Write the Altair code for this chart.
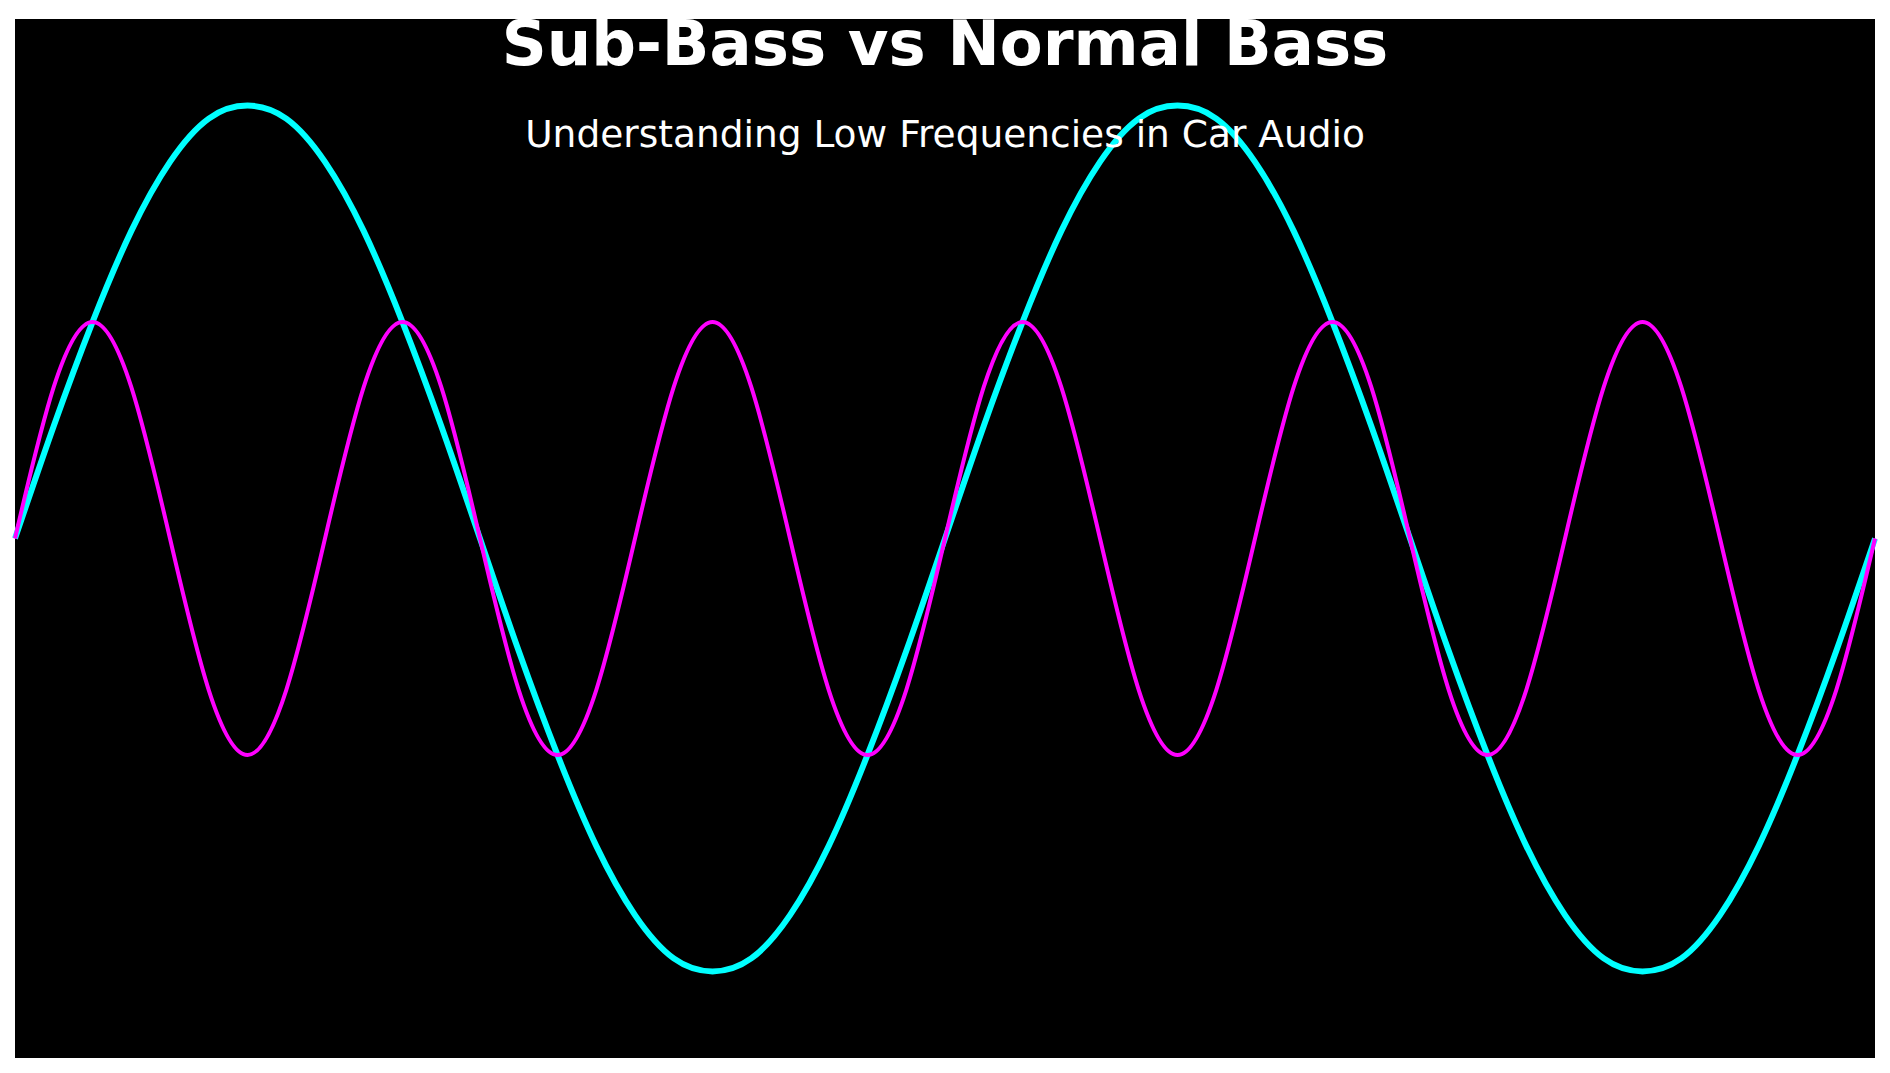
import altair as alt
import pandas as pd

TITLE = "Sub-Bass vs Normal Bass"
SUBTITLE = "Understanding Low Frequencies in Car Audio"

SERIES = ["Sub-Bass", "Normal Bass"]
COLORS = ["#00FFFF", "#FF00FF"]

# sample index along the horizontal axis
SAMPLE = list(range(49))

# sub-bass wave (two cycles across the view)
SUB_BASS = [
    0.0, 0.26, 0.5, 0.71, 0.87, 0.97, 1.0, 0.97, 0.87, 0.71, 0.5, 0.26,
    0.0, -0.26, -0.5, -0.71, -0.87, -0.97, -1.0, -0.97, -0.87, -0.71, -0.5, -0.26,
    0.0, 0.26, 0.5, 0.71, 0.87, 0.97, 1.0, 0.97, 0.87, 0.71, 0.5, 0.26,
    0.0, -0.26, -0.5, -0.71, -0.87, -0.97, -1.0, -0.97, -0.87, -0.71, -0.5, -0.26,
    0.0,
]

# normal bass wave (six cycles, half amplitude)
NORMAL_BASS = [
    0.0, 0.35, 0.5, 0.35, 0.0, -0.35, -0.5, -0.35,
    0.0, 0.35, 0.5, 0.35, 0.0, -0.35, -0.5, -0.35,
    0.0, 0.35, 0.5, 0.35, 0.0, -0.35, -0.5, -0.35,
    0.0, 0.35, 0.5, 0.35, 0.0, -0.35, -0.5, -0.35,
    0.0, 0.35, 0.5, 0.35, 0.0, -0.35, -0.5, -0.35,
    0.0, 0.35, 0.5, 0.35, 0.0, -0.35, -0.5, -0.35,
    0.0,
]

Y_DOMAIN = [-1.2, 1.2]

W, H = 1860, 1039

sub_df = pd.DataFrame({"sample": SAMPLE, "amp": SUB_BASS, "series": SERIES[0]})
norm_df = pd.DataFrame({"sample": SAMPLE, "amp": NORMAL_BASS, "series": SERIES[1]})

x_enc = alt.X("sample:Q", scale=alt.Scale(domain=[SAMPLE[0], SAMPLE[-1]], nice=False, zero=False), axis=None)
y_enc = alt.Y("amp:Q", scale=alt.Scale(domain=Y_DOMAIN, nice=False, zero=False), axis=None)
color_enc = alt.Color("series:N", scale=alt.Scale(domain=SERIES, range=COLORS), legend=None)

sub_line = alt.Chart(sub_df).mark_line(strokeWidth=6, interpolate="natural").encode(
    x=x_enc, y=y_enc, color=color_enc, order="sample:Q"
)
norm_line = alt.Chart(norm_df).mark_line(strokeWidth=4, interpolate="natural").encode(
    x=x_enc, y=y_enc, color=color_enc, order="sample:Q"
)

title_txt = alt.Chart(pd.DataFrame({"t": [TITLE]})).mark_text(
    font="DejaVu Sans", fontSize=62.5, fontWeight="bold", color="white",
    align="center", baseline="alphabetic", clip=True
).encode(x=alt.value(W / 2), y=alt.value(46), text="t:N")

sub_txt = alt.Chart(pd.DataFrame({"t": [SUBTITLE]})).mark_text(
    font="DejaVu Sans", fontSize=37.5, color="white",
    align="center", baseline="alphabetic"
).encode(x=alt.value(W / 2), y=alt.value(128), text="t:N")

chart = alt.layer(sub_line, norm_line, title_txt, sub_txt).properties(
    width=W, height=H,
    autosize=alt.AutoSizeParams(type="none"),
    padding={"left": 7, "top": 11, "right": 7, "bottom": 7},
    background="white",
).configure_view(fill="black", strokeWidth=0)

chart.save("out.html", embed_options={"renderer": "svg", "actions": False})
